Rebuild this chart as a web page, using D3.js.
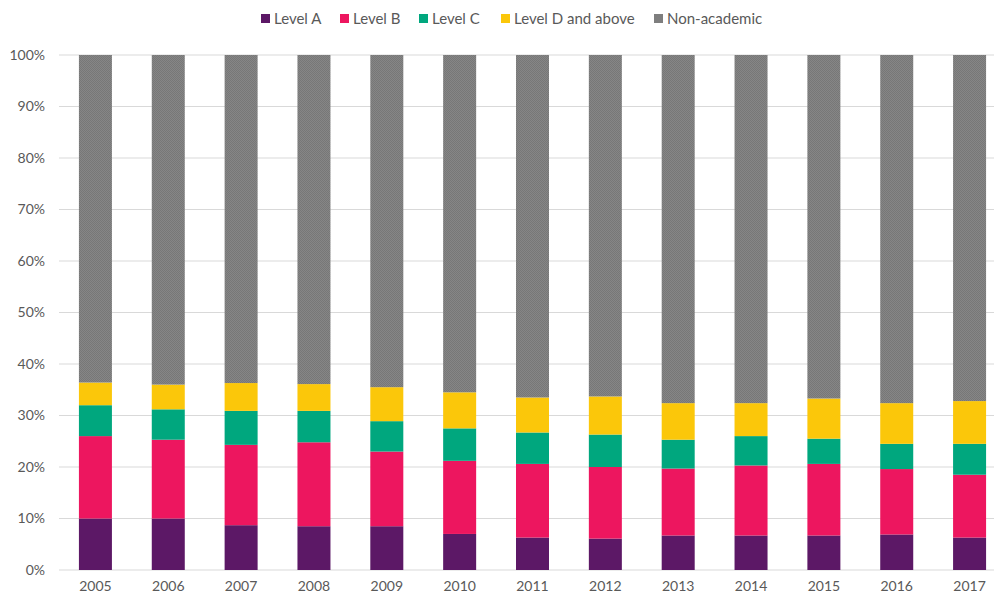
<!DOCTYPE html>
<html>
<head>
<meta charset="utf-8">
<script src="https://cdn.jsdelivr.net/npm/d3@7"></script>
<style>
  body { margin: 0; background: #fff; }
  svg { display: block; font-family: Lato, "Open Sans", sans-serif; }
</style>
</head>
<body>
<div id="chart"></div>
<script>
const years = ["2005", "2006", "2007", "2008", "2009", "2010", "2011", "2012", "2013", "2014", "2015", "2016", "2017"];
const levelA = [10.0, 10.0, 8.7, 8.5, 8.5, 7.0, 6.3, 6.1, 6.7, 6.7, 6.7, 6.9, 6.3];
const levelB = [16.0, 15.3, 15.6, 16.3, 14.5, 14.2, 14.3, 13.9, 13.0, 13.6, 13.9, 12.7, 12.2];
const levelC = [6.0, 5.9, 6.6, 6.1, 5.9, 6.3, 6.1, 6.3, 5.6, 5.7, 4.9, 4.9, 6.0];
const levelD = [4.4, 4.8, 5.4, 5.2, 6.6, 7.0, 6.8, 7.4, 7.1, 6.4, 7.8, 7.9, 8.3];
const nonAcademic = [63.6, 64.0, 63.7, 63.9, 64.5, 65.5, 66.5, 66.3, 67.6, 67.6, 66.7, 67.6, 67.2];
const seriesNames = ["Level A", "Level B", "Level C", "Level D and above", "Non-academic"];
const yTicks = [0, 10, 20, 30, 40, 50, 60, 70, 80, 90, 100];

const width = 995, height = 598;
const colors = ["#5c1866", "#ed165f", "#00a77e", "#fbc70a", "url(#dither)"];

const rows = years.map((y, i) => ({
  year: y,
  "Level A": levelA[i],
  "Level B": levelB[i],
  "Level C": levelC[i],
  "Level D and above": levelD[i],
  "Non-academic": nonAcademic[i]
}));

const svg = d3.select('#chart')
  .append('svg')
  .attr('width', width)
  .attr('height', height);

// fine grey dither used by the non-academic bars
const pat = svg.append('defs')
  .append('pattern')
    .attr('id', 'dither')
    .attr('width', 2)
    .attr('height', 2)
    .attr('patternUnits', 'userSpaceOnUse');
pat.append('rect').attr('width', 2).attr('height', 2).attr('fill', '#868686');
pat.append('rect').attr('width', 1).attr('height', 1).attr('fill', '#777777');
pat.append('rect').attr('x', 1).attr('y', 1).attr('width', 1).attr('height', 1).attr('fill', '#777777');

const x = d3.scaleBand()
  .domain(years)
  .range([59, 1006])
  .paddingInner(0.547)
  .paddingOuter(0.2735);

const y = d3.scaleLinear()
  .domain([0, 100])
  .range([570, 55]);

// gridlines
svg.append('g')
  .selectAll('line')
  .data(yTicks)
  .join('line')
    .attr('x1', 59)
    .attr('x2', 994)
    .attr('y1', d => y(d))
    .attr('y2', d => y(d))
    .attr('stroke', '#d9d9d9')
    .attr('stroke-width', 1);

const stack = d3.stack().keys(seriesNames)(rows);

svg.append('g')
  .selectAll('g')
  .data(stack)
  .join('g')
    .attr('fill', (d, i) => colors[i])
  .selectAll('rect')
  .data(d => d)
  .join('rect')
    .attr('x', d => x(d.data.year))
    .attr('width', x.bandwidth())
    .attr('y', d => y(d[1]))
    .attr('height', d => y(d[0]) - y(d[1]));

// y axis labels
svg.append('g')
  .selectAll('text')
  .data(yTicks)
  .join('text')
    .attr('x', 45)
    .attr('y', d => y(d))
    .attr('dy', '0.35em')
    .attr('text-anchor', 'end')
    .attr('font-size', '14px')
    .attr('fill', '#595959')
    .text(d => d + '%');

// x axis labels
svg.append('g')
  .selectAll('text')
  .data(years)
  .join('text')
    .attr('x', d => x(d) + x.bandwidth() / 2)
    .attr('y', 591)
    .attr('text-anchor', 'middle')
    .attr('font-size', '14px')
    .attr('fill', '#595959')
    .text(d => d);

// legend
const legendX = [261, 340, 419, 501, 654];
const legend = svg.append('g')
  .selectAll('g')
  .data(seriesNames)
  .join('g')
    .attr('transform', (d, i) => `translate(${legendX[i]}, 19)`);

legend.append('rect')
  .attr('x', 0)
  .attr('y', -5)
  .attr('width', 9)
  .attr('height', 9)
  .attr('fill', (d, i) => i === 4 ? '#7e7e7e' : colors[i]);

legend.append('text')
  .attr('x', 13)
  .attr('y', 0)
  .attr('dy', '0.35em')
  .attr('font-size', '15px')
  .attr('fill', '#595959')
  .text(d => d);
</script>
</body>
</html>
